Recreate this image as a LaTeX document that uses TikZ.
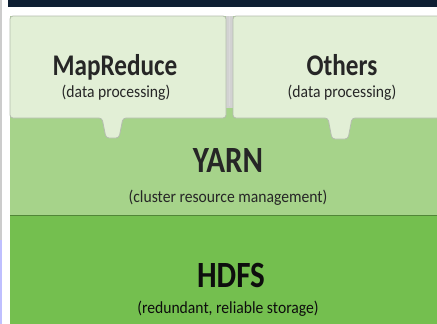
\documentclass[tikz,border=0pt]{standalone}
\usepackage{fontspec}
\setmainfont{Carlito}
\newfontfamily\headfont[FakeStretch=0.84]{Carlito}
\newfontfamily\notefont[FakeStretch=0.92]{Carlito}
\usetikzlibrary{positioning}
\definecolor{boxfill}{HTML}{E2EFD6}
\definecolor{boxline}{HTML}{B4BCAE}
\definecolor{yarngreen}{HTML}{A6D38A}
\definecolor{hdfsgreen}{HTML}{74BF4F}
\definecolor{banner}{HTML}{0E1F33}
\definecolor{ink}{HTML}{262626}

\begin{document}
\begin{tikzpicture}[x=1pt, y=-1pt,
    app/.style={fill=boxfill, draw=boxline, line width=0.8pt, rounded corners=3pt},
    title/.style={anchor=base, text=ink, font=\headfont\fontsize{30}{30}\selectfont\bfseries},
    big/.style={anchor=base, text=ink, font=\headfont\fontsize{37}{37}\selectfont\bfseries},
    sub/.style={anchor=base, text=ink, font=\notefont\fontsize{17}{17}\selectfont}]

  \useasboundingbox (0,0) rectangle (437,324);
  \fill[white] (0,0) rectangle (437,324);
  % strip of the cut title and the page edge
  \fill[banner] (8,0) rectangle (437,7);
  \draw[gray!40, line width=1.2pt] (1,0) -- (1,240);
  \draw[blue!25, line width=1.2pt] (1,240) -- (1,324);

  % layers
  \fill[yarngreen] (10,16) rectangle (437,215);
  \fill[hdfsgreen] (10,215) rectangle (437,324);
  \draw[black!30!hdfsgreen, line width=1pt] (10,215) -- (437,215);
  \fill[gray!35] (226,16) rectangle (233,108);
  \draw[white!70!gray, line width=1.5pt] (229.5,16) -- (229.5,106);

  % applications on top of YARN
  \draw[app] (10,16) -- (226,16) -- (226,118) -- (123,118) -- (119,138)
    -- (106,138) -- (102,118) -- (10,118) -- cycle;
  \draw[app] (233,16) -- (445,16) -- (445,118) -- (352,118) -- (348,139)
    -- (332,139) -- (328,118) -- (233,118) -- cycle;

  \node[title] (mr) at (115,75) {MapReduce};
  \node[sub] (mrsub) at (116,97) {(data processing)};
  \node[title] (oth) at (342,75) {Others};
  \node[sub] (othsub) at (342,97) {(data processing)};

  \node[big] (yarn) at (228,172) {YARN};
  \node[sub] (yarnsub) at (228,202) {(cluster resource management)};
  \node[big, text=black!95] (hdfs) at (231,287) {HDFS};
  \node[sub, text=black!95] (hdfssub) at (228,313) {(redundant, reliable storage)};
\end{tikzpicture}
\end{document}
